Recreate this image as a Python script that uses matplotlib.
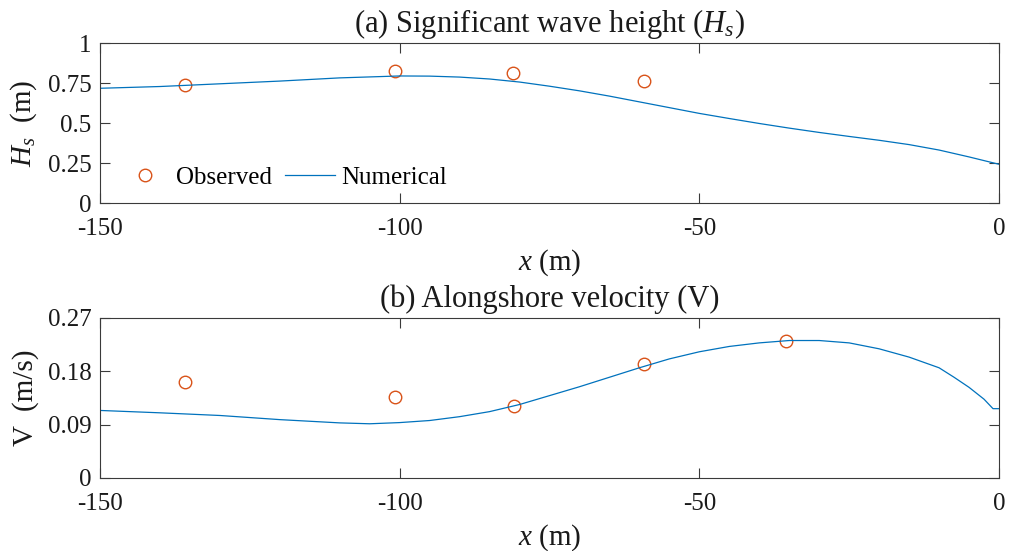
import matplotlib
matplotlib.use("Agg")
import matplotlib.pyplot as plt

# Observation stations (cross-shore position, m)
obs_x_hs = [-135.8, -100.7, -81.1, -59.3]
obs_hs = [0.737, 0.827, 0.812, 0.764]

obs_x_v = [-135.8, -100.7, -81.0, -59.3, -35.5]
obs_v = [0.162, 0.136, 0.122, 0.193, 0.231]

# Model output
num_x_hs = [-150, -140, -130, -120, -110, -100, -95, -90, -85, -80, -75, -70,
            -65, -60, -55, -50, -45, -40, -35, -30, -25, -20, -15, -10, -5, 0]
num_hs = [0.717, 0.728, 0.745, 0.762, 0.782, 0.794, 0.793, 0.787, 0.775, 0.756,
          0.730, 0.701, 0.668, 0.632, 0.596, 0.560, 0.528, 0.497, 0.468, 0.441,
          0.416, 0.392, 0.365, 0.331, 0.288, 0.242]

num_x_v = [-150, -140, -130, -120, -110, -105, -100, -95, -90, -85, -80, -75,
           -70, -65, -60, -55, -50, -45, -40, -35, -30, -25, -20, -15, -10,
           -7.5, -5, -2.5, -1, 0]
num_v = [0.114, 0.110, 0.1055, 0.0985, 0.093, 0.0915, 0.0935, 0.097, 0.1035,
         0.112, 0.124, 0.139, 0.154, 0.170, 0.186, 0.201, 0.213, 0.222, 0.228,
         0.232, 0.232, 0.228, 0.218, 0.204, 0.186, 0.170, 0.153, 0.133,
         0.117, 0.117]

hs_ticks = [0, 0.25, 0.5, 0.75, 1]
hs_ticklabels = ["0", "0.25", "0.5", "0.75", "1"]
v_ticks = [0, 0.09, 0.18, 0.27]
v_ticklabels = ["0", "0.09", "0.18", "0.27"]
x_ticks = [-150, -100, -50, 0]
x_ticklabels = ["-150", "-100", "-50", "0"]

BLUE = "#0072BD"
ORANGE = "#D95319"
AX_COLOR = "#3a3a3a"
TXT = "#1a1a1a"

plt.rcParams["font.family"] = ["Liberation Serif", "DejaVu Serif"]
plt.rcParams["mathtext.fontset"] = "custom"
plt.rcParams["mathtext.rm"] = "Liberation Serif"
plt.rcParams["mathtext.it"] = "Liberation Serif:italic"

TICK_FS = 18
LABEL_FS = 21
TITLE_FS = 22

fig = plt.figure(figsize=(10.12, 5.51), dpi=100)
ax1 = fig.add_axes([100 / 1012, 1 - 203 / 551, 899 / 1012, 160 / 551])
ax2 = fig.add_axes([100 / 1012, 1 - 478 / 551, 899 / 1012, 160 / 551])


def style(ax, yticks, yticklabels):
    ax.set_xlim(-150, 0)
    ax.set_xticks(x_ticks)
    ax.set_xticklabels(x_ticklabels)
    ax.set_yticks(yticks)
    ax.set_yticklabels(yticklabels)
    ax.tick_params(direction="in", top=True, right=True, length=7,
                   width=0.8, color=AX_COLOR, labelcolor=TXT,
                   labelsize=TICK_FS, pad=6)
    ax.tick_params(axis="x", pad=11)
    for sp in ax.spines.values():
        sp.set_color(AX_COLOR)
        sp.set_linewidth(0.8)
    ax.set_xlabel("$x$ (m)", fontsize=LABEL_FS, labelpad=5, color=TXT)
    ax.yaxis.set_label_coords(-0.068, 0.5)


# (a) significant wave height
ax1.plot(obs_x_hs, obs_hs, "o", mfc="none", mec=ORANGE, ms=9, mew=1.0,
         label="Observed")
ax1.plot(num_x_hs, num_hs, "-", color=BLUE, lw=0.9, label="Numerical")
ax1.set_ylim(0, 1)
style(ax1, hs_ticks, hs_ticklabels)
ax1.set_ylabel("$H_s$  (m)", fontsize=LABEL_FS, color=TXT)
ax1.set_title("(a) Significant wave height ($H_s$)", fontsize=TITLE_FS,
              pad=8, color=TXT)
ax1.legend(loc="lower left", ncol=2, frameon=False, fontsize=TICK_FS,
           handlelength=2.0, columnspacing=0.5, handletextpad=0.25,
           borderpad=0.4, bbox_to_anchor=(-0.003, -0.05))

# (b) alongshore velocity
ax2.plot(obs_x_v, obs_v, "o", mfc="none", mec=ORANGE, ms=9, mew=1.0)
ax2.plot(num_x_v, num_v, "-", color=BLUE, lw=0.9)
ax2.set_ylim(0, 0.27)
style(ax2, v_ticks, v_ticklabels)
ax2.set_ylabel("V  (m/s)", fontsize=LABEL_FS, color=TXT)
ax2.set_title("(b) Alongshore velocity (V)", fontsize=TITLE_FS, pad=8,
              color=TXT)

fig.savefig("out.png", dpi=100)
